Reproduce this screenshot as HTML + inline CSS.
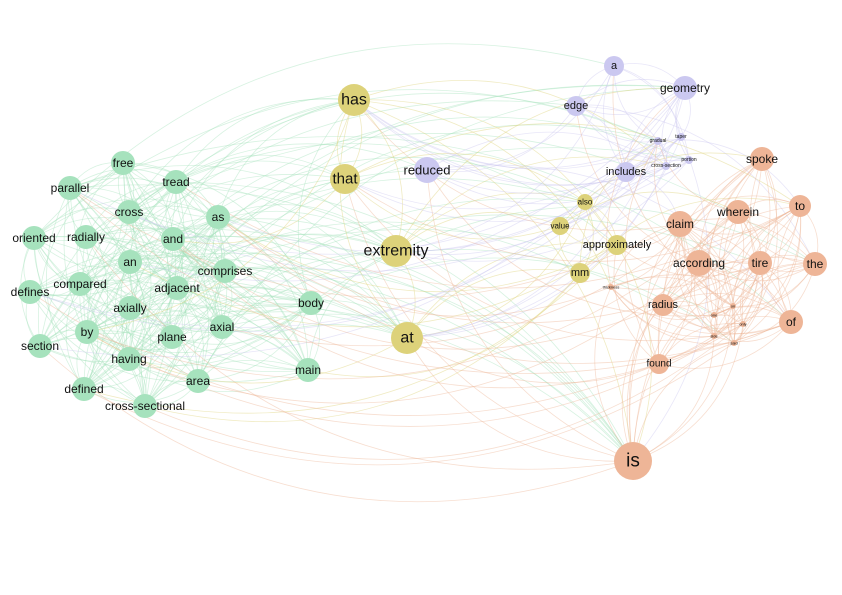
<!DOCTYPE html>
<html><head><meta charset="utf-8"><style>
html,body{margin:0;padding:0;background:#fff;width:842px;height:595px;overflow:hidden}
svg text{font-family:"Liberation Sans",sans-serif;fill:#111;text-anchor:middle;dominant-baseline:central}
</style></head><body>
<svg id="s" width="842" height="595" viewBox="0 0 842 595" xmlns="http://www.w3.org/2000/svg">
<g id="e" fill="none"></g><g id="n"></g><g id="t"></g>
</svg>
<script>
var G='#a6e2bd',Y='#ddd27a',P='#cbc8f0',O='#eeb597';
var N=[
['free',123,163,12,G,12],['parallel',70,188,12,G,12],['tread',176,182,12,G,12],['cross',129,212,12,G,12],['as',218,217,12,G,12],
['oriented',34,238,12,G,12],['radially',86,237,12,G,12],['and',173,239,12,G,12],['an',130,262,12,G,12],['comprises',225,271,12,G,12],
['defines',30,292,12,G,12],['compared',80,284,12,G,12],['adjacent',177,288,12,G,12],['axially',130,308,12,G,12],['body',311,303,12,G,12],
['by',87,332,12,G,12],['plane',172,337,12,G,12],['axial',222,327,12,G,12],['section',40,346,12,G,12],['having',129,359,12,G,12],
['main',308,370,12,G,12],['area',198,381,12,G,12],['defined',84,389,12,G,12],['cross-sectional',145,406,12,G,12],
['has',354,100,16,Y,16],['that',345,179,15,Y,15],['extremity',396,251,16,Y,16],['at',407,338,16,Y,16],['also',585,202,8,Y,8],
['value',560,226,9,Y,8],['approximately',617,245,10,Y,11],['mm',580,273,10,Y,11],
['a',614,66,10,P,11],['geometry',685,88,12,P,12],['edge',576,106,10,P,11],['gradual',658,141,4,P,5],['taper',681,137,4,P,5],
['portion',689,160,4,P,5],['cross-section',666,166,4,P,5],['includes',626,172,10,P,11],['reduced',427,170,13,P,13],
['spoke',762,159,12,O,12],['to',800,206,11,O,12],['wherein',738,212,12,O,12],['claim',680,224,13,O,12],['the',815,264,12,O,12],
['according',699,263,13,O,12],['tire',760,263,12,O,12],['radius',663,305,11,O,11],['of',791,322,12,O,12],['found',659,364,10,O,10],
['is',633,461,19,O,19],['thickness',611,287,3,O,4],['on',733,306,3,O,4],['one',714,315,3,O,4],['only',743,324,3,O,4],['side',714,336,3,O,4],['said',734,343,3,O,4]
];
var seed=7;function r(){seed=(seed*16807)%2147483647;return seed/2147483647;}
var e='';
var hubs={'is':1,'has':1,'extremity':1,'at':1,'that':1};
for(var i=0;i<N.length;i++){for(var j=0;j<N.length;j++){if(i==j)continue;
 var a=N[i],b=N[j];var same=a[4]==b[4];var p=same?0.4:0.04;
 if(hubs[b[0]])p=(a[4]==O&&b[0]!='is')?0.08:0.3;
 if(a[4]==G&&b[4]==O&&b[0]!='is')p=0.01;
 if(r()>p)continue;
 var dx=b[1]-a[1],dy=b[2]-a[2];var cx=(a[1]+b[1])/2+dy*0.3,cy=(a[2]+b[2])/2-dx*0.3;
 e+='<path d="M'+a[1]+' '+a[2]+'Q'+cx.toFixed(1)+' '+cy.toFixed(1)+' '+b[1]+' '+b[2]+'" stroke="'+a[4]+'" stroke-width="0.8" opacity="0.45"/>';}}
document.getElementById('e').innerHTML=e;
var n='',t='';
N.forEach(function(d){n+='<circle cx="'+d[1]+'" cy="'+d[2]+'" r="'+d[3]+'" fill="'+d[4]+'"/>';
 t+='<text x="'+d[1]+'" y="'+d[2]+'" font-size="'+d[5]+'">'+d[0]+'</text>';});
document.getElementById('n').innerHTML=n;document.getElementById('t').innerHTML=t;
</script>
</body></html>
